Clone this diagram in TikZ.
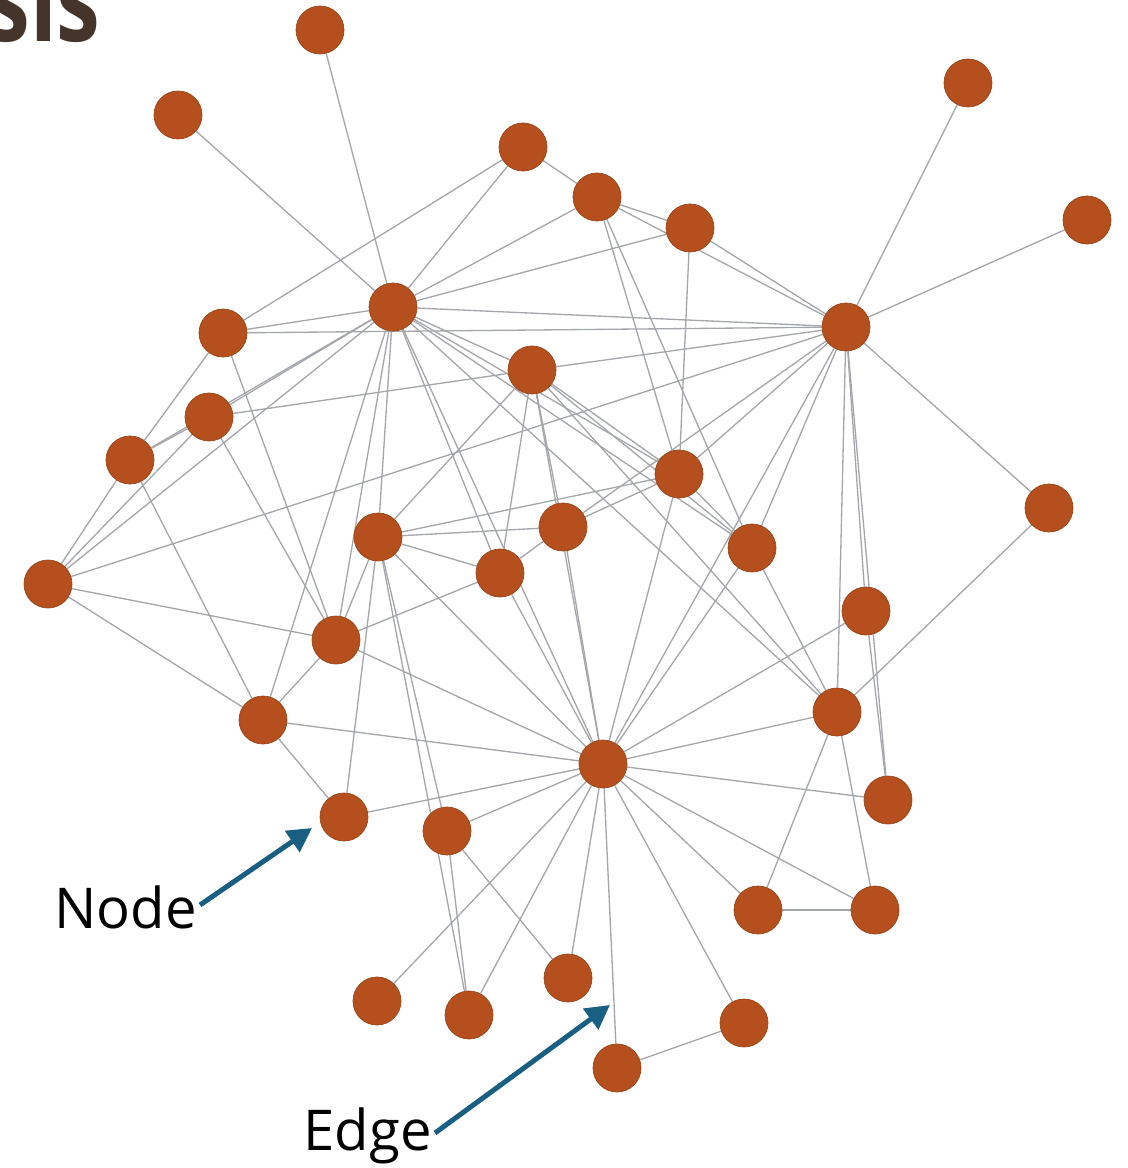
\documentclass[tikz,border=0pt]{standalone}
\usepackage{fontspec}
\setmainfont{Open Sans}
\usetikzlibrary{arrows.meta,backgrounds}

\definecolor{nodebrown}{RGB}{181,80,30}
\definecolor{edgegray}{RGB}{163,166,170}
\definecolor{pointerblue}{RGB}{24,95,130}
\definecolor{titlebrown}{RGB}{68,52,42}

\tikzset{
  vertex/.style={circle,fill=nodebrown,draw=nodebrown!85!black,line width=0.4pt,
    minimum size=9.6mm,inner sep=0pt},
  link/.style={draw=edgegray,line width=0.75pt},
  pointer/.style={draw=pointerblue,line width=1mm,
    -{Triangle[length=4.8mm,width=5mm]}},
  callout/.style={font=\fontsize{32}{38}\selectfont,inner sep=0pt}
}

\begin{document}
\begin{tikzpicture}[x=0.2mm,y=-0.2mm]
  \useasboundingbox (0,0) rectangle (1127,1168);

  % heading, cut off by the page edge
  \node[anchor=base east,inner sep=0pt,text=titlebrown,yscale=1.3,transform shape,
    font=\fontsize{50}{60}\selectfont\bfseries] (heading) at (101,42) {sis};

  % vertices
  \foreach \name/\x/\y in {1/320/30, 2/178/115, 3/523/147, 4/597/197,
      5/690/228, 6/968/83, 7/1087/220, 8/393/307, 9/223/333, 10/846/327,
      11/532/370, 12/209/417, 13/130/460, 14/679/474, 15/1049/508,
      16/378/537, 17/563/527, 18/500/573, 19/752/548, 20/48/584,
      21/866/611, 22/336/640, 23/263/720, 24/837/712, 25/603/764,
      26/888/800, 27/344/817, 28/447/831, 29/758/910, 30/875/910,
      31/568/978, 32/377/1001, 33/469/1015, 34/744/1023, 35/617/1068}
    \node[vertex] (n\name) at (\x,\y) {};

  % edges, kept under the vertices
  \begin{scope}[on background layer]
    \foreach \a/\b in {1/8, 2/8, 3/8, 3/9, 3/4, 4/5, 4/8, 5/8, 4/10, 5/10,
        4/14, 4/19, 5/14, 6/10, 7/10, 10/15, 15/24,
        8/9, 9/10, 8/10, 8/12, 8/13, 8/20, 8/16, 8/22, 8/23, 8/18, 8/25,
        8/11, 8/14, 8/19, 8/24, 9/13, 9/22,
        12/13, 12/20, 12/11, 12/22, 13/20, 13/23, 20/22, 20/23, 20/10,
        11/10, 11/16, 11/17, 11/18, 11/14, 11/19, 11/24, 11/25,
        10/14, 10/17, 10/19, 10/25, 10/21, 10/26, 10/24,
        14/16, 14/17, 14/19, 14/25,
        16/17, 16/18, 16/22, 16/25, 16/27, 16/28, 16/33,
        17/18, 17/25, 18/22, 18/25, 19/24, 19/25, 21/26, 21/25,
        22/23, 22/25, 23/25, 23/27, 24/25, 24/29, 24/30,
        25/26, 25/27, 25/28, 25/29, 25/30, 25/31, 25/32, 25/33, 25/34, 25/35,
        28/31, 28/33, 29/30, 34/35}
      \draw[link] (n\a) -- (n\b);
  \end{scope}

  % labels with their pointers
  \node[callout,anchor=east] (nodelbl) at (197,907) {Node};
  \coordinate (nodetip) at (312,828);
  \draw[pointer] (nodelbl.east) ++(3,-2) -- (nodetip);

  \node[callout,anchor=east] (edgelbl) at (432,1136) {Edge};
  \coordinate (edgetip) at (610,1005);
  \draw[pointer] (edgelbl.east) ++(3,-3) -- (edgetip);
\end{tikzpicture}
\end{document}
